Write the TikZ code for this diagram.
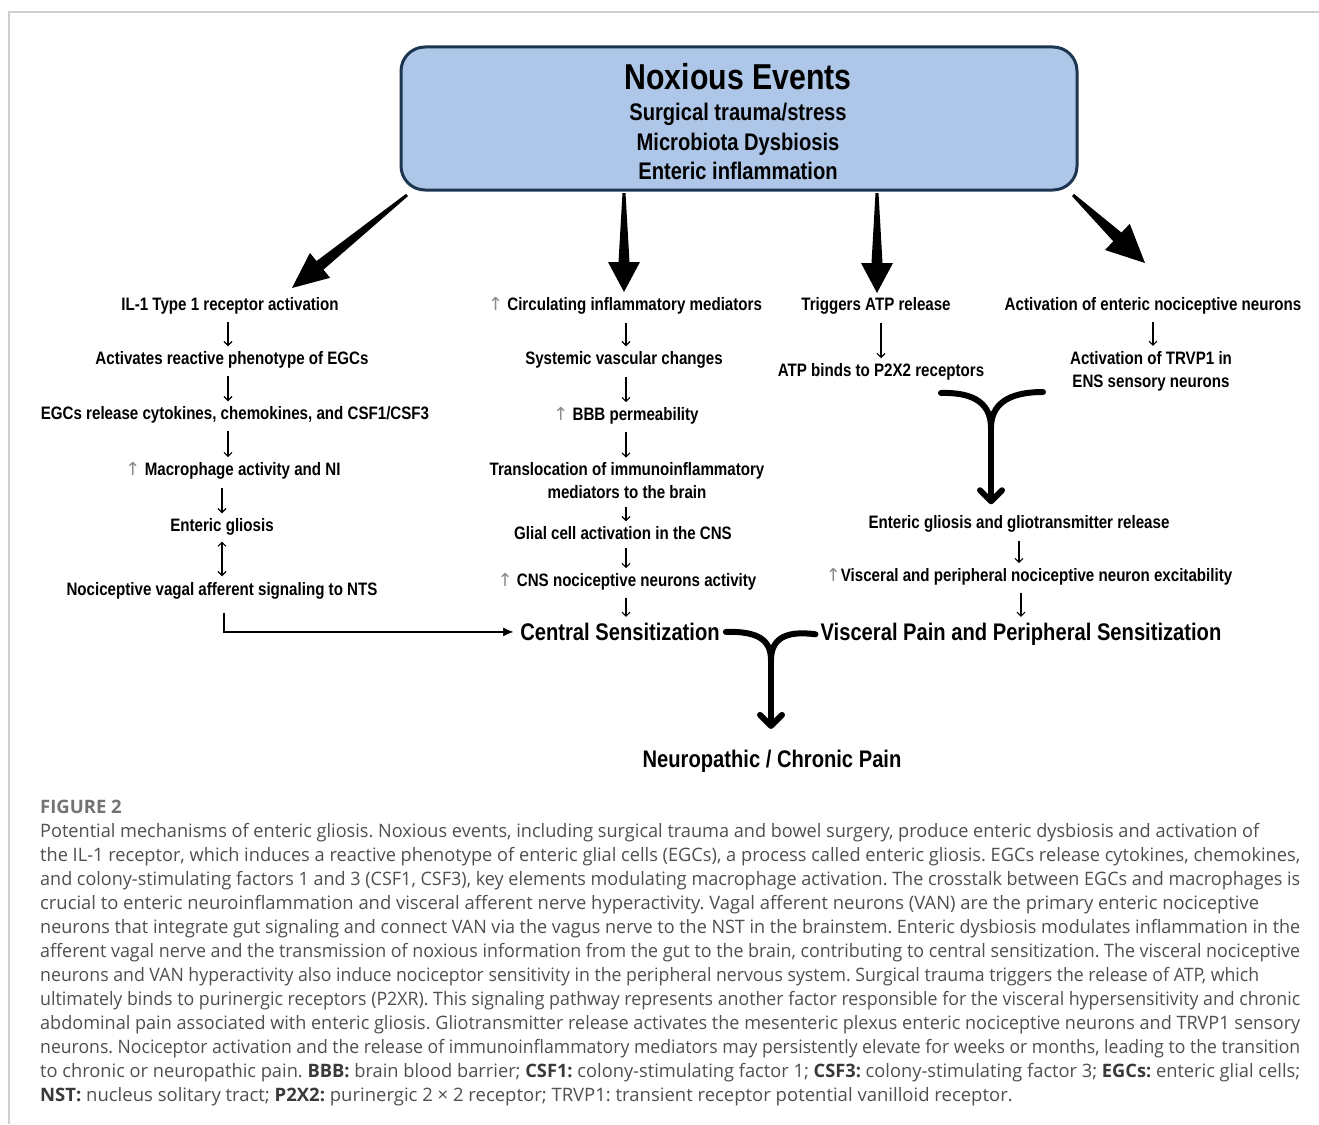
\documentclass[tikz,border=0pt]{standalone}
\usepackage{fontspec}
\usepackage{graphicx}
\setmainfont{Liberation Sans}
\newfontfamily\nb[FakeStretch=0.84]{Liberation Sans}
\IfFontExistsTF{FiraSans-Light.otf}
  {\newfontfamily\capf{FiraSans-Light.otf}[BoldFont=FiraSans-SemiBold.otf]}
  {\newfontfamily\capf{Open Sans}}
\newfontfamily\arrf{DejaVu Sans}
\usetikzlibrary{arrows.meta,calc}
\definecolor{boxfill}{HTML}{AEC6E8}
\definecolor{boxline}{HTML}{1C3550}
\definecolor{captxt}{HTML}{505050}
\definecolor{capbold}{HTML}{3A3A3A}
\definecolor{upgray}{HTML}{8A8A8A}
\definecolor{framegray}{HTML}{D0D0D0}
\frenchspacing
\newsavebox\capbox
\newcommand\up{{\arrf\mdseries\color{upgray}↑}}
\newcommand\capj[2]{\sbox\capbox{#2}%
  \ifdim\wd\capbox>#1\relax\resizebox{#1}{\height}{\usebox\capbox}\else\makebox[#1][s]{#2}\fi}
\newcommand\cb[1]{{\bfseries\color{capbold}#1}}
\newcommand\fatarr[6]{%
  \coordinate (#2-neck) at ($(#2)!#5!(#1)$);
  \fill[black] ($(#1)!#3!90:(#2)$) -- ($(#2-neck)!#4!90:(#2)$) -- ($(#2-neck)!#6!90:(#2)$) -- (#2)
     -- ($(#2-neck)!#6!-90:(#2)$) -- ($(#2-neck)!#4!-90:(#2)$) -- ($(#1)!#3!-90:(#2)$) -- cycle;}
\begin{document}
\begin{tikzpicture}[x=1pt,y=-1pt,
  lab/.style={font=\nb\bfseries\fontsize{18}{23}\selectfont, inner sep=2pt, align=center},
  biglab/.style={font=\nb\bfseries\fontsize{24}{28}\selectfont, inner sep=3pt},
  titlelab/.style={font=\nb\bfseries\fontsize{36}{40}\selectfont, inner sep=0pt},
  sublab/.style={font=\nb\bfseries\fontsize{24}{28}\selectfont, inner sep=0pt},
  sarr/.style={-{Straight Barb[length=4pt,width=8pt]}, line width=1.1pt, shorten <=6pt, shorten >=3pt},
  darr/.style={{Straight Barb[length=4pt,width=8pt]}-{Straight Barb[length=4pt,width=8pt]}, line width=1.1pt, shorten <=4pt, shorten >=4pt},
  elb/.style={-{Latex[length=11pt,width=9pt]}, line width=2.8pt, shorten >=3pt},
  bigy/.style={line width=6pt, line cap=round},
  bigyarr/.style={line width=6pt, -{Straight Barb[length=11pt,width=22pt,round]}},
  capl/.style={font=\capf\fontsize{18.5}{24}\selectfont, text=captxt, anchor=base west, inner sep=0pt},
]
\useasboundingbox (0,0) rectangle (1319,1124);
\fill[white] (0,0) rectangle (1319,1124);
% frame
\draw[framegray, line width=1.5pt] (9,1124) -- (9,12) -- (1319,12);

% top box
\node[draw=boxline, fill=boxfill, line width=3pt, rounded corners=24pt,
      minimum width=676pt, minimum height=143pt] (box) at (739,118.5) {};
\node[titlelab, anchor=base] (t0) at (738,89) {Noxious Events};
\node[sublab, anchor=base] (ts1) at (738,120.6) {Surgical trauma/stress};
\node[sublab, anchor=base] (ts2) at (738,150.6) {Microbiota Dysbiosis};
\node[sublab, anchor=base] (ts3) at (738,179.6) {Enteric inflammation};

% fat arrows
\coordinate (a1s) at (407,195); \coordinate (a1e) at (292,288);
\coordinate (a2s) at (624,193); \coordinate (a2e) at (624,292);
\coordinate (a3s) at (877,193); \coordinate (a3e) at (877,293);
\coordinate (a4s) at (1073,195); \coordinate (a4e) at (1145,263);
\fatarr{a1s}{a1e}{1.5pt}{5.5pt}{36pt}{16pt}
\fatarr{a2s}{a2e}{1.5pt}{5.5pt}{30pt}{16pt}
\fatarr{a3s}{a3e}{1.5pt}{5.5pt}{30pt}{16pt}
\fatarr{a4s}{a4e}{1.5pt}{6pt}{38pt}{18pt}

% left column
\node[lab, anchor=base] (n1) at (230,310.5) {IL-1 Type 1 receptor activation};
\node[lab, anchor=base] (n2) at (232,364.5) {Activates reactive phenotype of EGCs};
\node[lab, anchor=base] (n3) at (235,419.5) {EGCs release cytokines, chemokines, and CSF1/CSF3};
\node[lab, anchor=base] (n4) at (233,475.5) {\up\ Macrophage activity and NI};
\node[lab, anchor=base] (n5) at (222,531.5) {Enteric gliosis};
\node[lab, anchor=base] (n6) at (222,595.5) {Nociceptive vagal afferent signaling to NTS};
\coordinate (colL) at (228,0);
\draw[sarr] (n1.south -| colL) -- (n2.north -| colL);
\draw[sarr] (n2.south -| colL) -- (n3.north -| colL);
\draw[sarr] (n3.south -| colL) -- (n4.north -| colL);
\draw[sarr] (n4.south -| n5) -- (n5.north);
\draw[darr] (n5.south) -- (n6.north);

% middle column
\node[lab, anchor=base] (m1) at (625,310.5) {\up\ Circulating inflammatory mediators};
\node[lab, anchor=base] (m2) at (624,364.5) {Systemic vascular changes};
\node[lab, anchor=base] (m3) at (626,420.5) {\up\ BBB permeability};
\node[lab] (m4) at (627,481) {Translocation of immunoinflammatory\\mediators to the brain};
\node[lab, anchor=base] (m5) at (623,539.5) {Glial cell activation in the CNS};
\node[lab, anchor=base] (m6) at (627,586.5) {\up\ CNS nociceptive neurons activity};
\node[biglab, anchor=base] (m7) at (620,640.5) {Central Sensitization};
\coordinate (colM) at (626,0);
\draw[sarr] (m1.south -| colM) -- (m2.north -| colM);
\draw[sarr] (m2.south -| colM) -- (m3.north -| colM);
\draw[sarr] (m3.south -| colM) -- (m4.north -| colM);
\draw[sarr] (m4.south -| colM) -- (m5.north -| colM);
\draw[sarr] (m5.south -| colM) -- (m6.north -| colM);
\draw[sarr] (m6.south -| colM) -- (m7.north -| colM);

% elbow connector
\draw[elb] (n6.south) ++(2,11) |- (m7.west);

% third and fourth columns
\node[lab, anchor=base] (t1) at (876,310.5) {Triggers ATP release};
\node[lab, anchor=base] (t2) at (881,376.5) {ATP binds to P2X2 receptors};
\draw[sarr] (t1.south -| t2) -- (t2.north);
\node[lab, anchor=base] (r1) at (1153,310.5) {Activation of enteric nociceptive neurons};
\node[lab] (r2) at (1151,371) {Activation of TRVP1 in\\ENS sensory neurons};
\draw[sarr] (r1.south) -- (r1.south |- r2.north);

% right lower column
\node[lab, anchor=base] (g1) at (1019,528.5) {Enteric gliosis and gliotransmitter release};
\node[lab, anchor=base] (g2) at (1029,581.5) {\up Visceral and peripheral nociceptive neuron excitability};
\node[biglab, anchor=base] (g3) at (1021,640.5) {Visceral Pain and Peripheral Sensitization};
\draw[sarr] (g1.south) -- (g1.south |- g2.north);
\draw[sarr] (g2.south -| g3) -- (g3.north);

% upper merge
\coordinate (ya) at (941,393);
\coordinate (yb) at (1043,392);
\coordinate (yj) at (991,428);
\draw[bigy] (ya) .. controls (976,392) and (991,405) .. (yj);
\draw[bigy] (yb) .. controls (1007,392) and (991,405) .. (yj);
\draw[bigyarr, shorten >=9pt] (yj) -- (yj |- g1.north);

% lower merge
\node[biglab, anchor=base] (pain) at (772,767.5) {Neuropathic / Chronic Pain};
\coordinate (zj) at (771,660);
\draw[bigy] ([xshift=3pt]m7.east) .. controls (758,631) and (771,640) .. (zj);
\draw[bigy] ([xshift=-2pt]g3.west) .. controls (784,630) and (771,640) .. (zj);
\draw[bigyarr, shorten >=18pt] (zj) -- (zj |- pain.north);

% caption
\node[capl, font=\capf\bfseries\fontsize{18.5}{24}\selectfont, text=black!55] (fig) at (40,813) {FIGURE 2};
\node[capl] (c1) at (40,837) {\capj{1219pt}{Potential mechanisms of enteric gliosis. Noxious events, including surgical trauma and bowel surgery, produce enteric dysbiosis and activation of}};
\node[capl] (c2) at (40,861) {\capj{1260pt}{the IL-1 receptor, which induces a reactive phenotype of enteric glial cells (EGCs), a process called enteric gliosis. EGCs release cytokines, chemokines,}};
\node[capl] (c3) at (40,885) {\capj{1260pt}{and colony-stimulating factors 1 and 3 (CSF1, CSF3), key elements modulating macrophage activation. The crosstalk between EGCs and macrophages is}};
\node[capl] (c4) at (40,909) {\capj{1219pt}{crucial to enteric neuroinflammation and visceral afferent nerve hyperactivity. Vagal afferent neurons (VAN) are the primary enteric nociceptive}};
\node[capl] (c5) at (40,933) {\capj{1260pt}{neurons that integrate gut signaling and connect VAN via the vagus nerve to the NST in the brainstem. Enteric dysbiosis modulates inflammation in the}};
\node[capl] (c6) at (40,957) {\capj{1260pt}{afferent vagal nerve and the transmission of noxious information from the gut to the brain, contributing to central sensitization. The visceral nociceptive}};
\node[capl] (c7) at (40,981) {\capj{1219pt}{neurons and VAN hyperactivity also induce nociceptor sensitivity in the peripheral nervous system. Surgical trauma triggers the release of ATP, which}};
\node[capl] (c8) at (40,1005) {\capj{1260pt}{ultimately binds to purinergic receptors (P2XR). This signaling pathway represents another factor responsible for the visceral hypersensitivity and chronic}};
\node[capl] (c9) at (40,1029) {\capj{1260pt}{abdominal pain associated with enteric gliosis. Gliotransmitter release activates the mesenteric plexus enteric nociceptive neurons and TRVP1 sensory}};
\node[capl] (c10) at (40,1053) {\capj{1260pt}{neurons. Nociceptor activation and the release of immunoinflammatory mediators may persistently elevate for weeks or months, leading to the transition}};
\node[capl] (c11) at (40,1077) {\capj{1260pt}{to chronic or neuropathic pain. \cb{BBB:} brain blood barrier; \cb{CSF1:} colony-stimulating factor 1; \cb{CSF3:} colony-stimulating factor 3; \cb{EGCs:} enteric glial cells;}};
\node[capl] (c12) at (40,1101) {\cb{NST:} nucleus solitary tract; \cb{P2X2:} purinergic 2 × 2 receptor; TRVP1: transient receptor potential vanilloid receptor.};
\end{tikzpicture}
\end{document}
